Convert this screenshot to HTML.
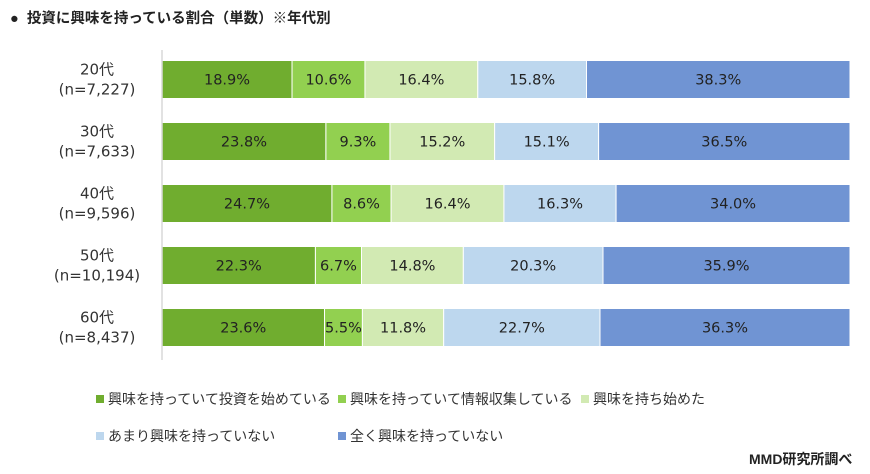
<!DOCTYPE html>
<html><head><meta charset="utf-8">
<style>
body{margin:0;background:#fff;font-family:"Liberation Sans","Noto Sans CJK JP",sans-serif;}
#wrap{position:relative;width:870px;height:474px;overflow:hidden;background:#fff}
.t{position:absolute;white-space:nowrap;color:#222}
.lg{position:absolute;font-size:14px;color:#333;white-space:nowrap}
.lg i{display:inline-block;width:8px;height:8px;margin-right:4px;vertical-align:1px}
</style></head><body>
<div id="wrap">
<div class="t" style="left:10px;top:7px;font-size:14.5px;font-weight:bold">●&nbsp;&nbsp;投資に興味を持っている割合（単数）※年代別</div>
<svg id="svg" width="870" height="474" style="position:absolute;left:0;top:0"></svg>
<div class="lg" style="left:96px;top:389px"><i style="background:#70ad2f"></i>興味を持っていて投資を始めている</div>
<div class="lg" style="left:338px;top:389px"><i style="background:#92d050"></i>興味を持っていて情報収集している</div>
<div class="lg" style="left:581px;top:389px"><i style="background:#d2eab3"></i>興味を持ち始めた</div>
<div class="lg" style="left:96px;top:426px"><i style="background:#bdd7ee"></i>あまり興味を持っていない</div>
<div class="lg" style="left:338px;top:426px"><i style="background:#7094d3"></i>全く興味を持っていない</div>
<div class="t" style="left:749px;top:449px;font-size:14px;font-weight:bold">MMD研究所調べ</div>
</div>
<script>
const categories=["20代","30代","40代","50代","60代"];
const counts=["(n=7,227)","(n=7,633)","(n=9,596)","(n=10,194)","(n=8,437)"];
const investing=[18.9,23.8,24.7,22.3,23.6];
const collecting=[10.6,9.3,8.6,6.7,5.5];
const starting=[16.4,15.2,16.4,14.8,11.8];
const little=[15.8,15.1,16.3,20.3,22.7];
const none=[38.3,36.5,34.0,35.9,36.3];
const series=[investing,collecting,starting,little,none];
const colors=["#70ad2f","#92d050","#d2eab3","#bdd7ee","#7094d3"];
const names=["investing","collecting","starting","little","none"];
const svg=document.getElementById('svg');const NS="http://www.w3.org/2000/svg";
const x0=162,x1=850,top0=50,rowH=62,barH=38;
const F='"DejaVu Sans","Noto Sans CJK JP",sans-serif';
const xs=v=>x0+(x1-x0)*v/100;
function mk(t,a){const e=document.createElementNS(NS,t);for(const k in a)e.setAttribute(k,a[k]);svg.appendChild(e);return e;}
categories.forEach((c,i)=>{
  const y=top0+i*rowH+10.5;
  let acc=0;
  series.forEach((s,j)=>{
    const tot=series.reduce((a,ss)=>a+ss[i],0);
    const v=s[i]*100/tot;
    const r=mk('rect',{x:xs(acc),y:y,width:xs(acc+v)-xs(acc),height:barH,fill:colors[j],stroke:'#fff','stroke-width':1});
    
    
    const t=mk('text',{x:(xs(acc)+xs(acc+v))/2,y:y+barH/2+5,'text-anchor':'middle','font-size':14.5,fill:'#222','font-family':F});
    t.textContent=s[i].toFixed(1)+'%';
    
    
    acc+=v;
  });
  const l1=mk('text',{x:97,y:y+14,'text-anchor':'middle','font-size':15,fill:'#333','font-family':F});l1.textContent=c;
  
  
  const l2=mk('text',{x:97,y:y+34,'text-anchor':'middle','font-size':15,fill:'#333','font-family':F});l2.textContent=counts[i];
  
  
});
const ax=mk('line',{x1:x0,x2:x0,y1:top0,y2:top0+rowH*5,stroke:'#d9d9d9','stroke-width':1.5});


</script>
</body></html>
